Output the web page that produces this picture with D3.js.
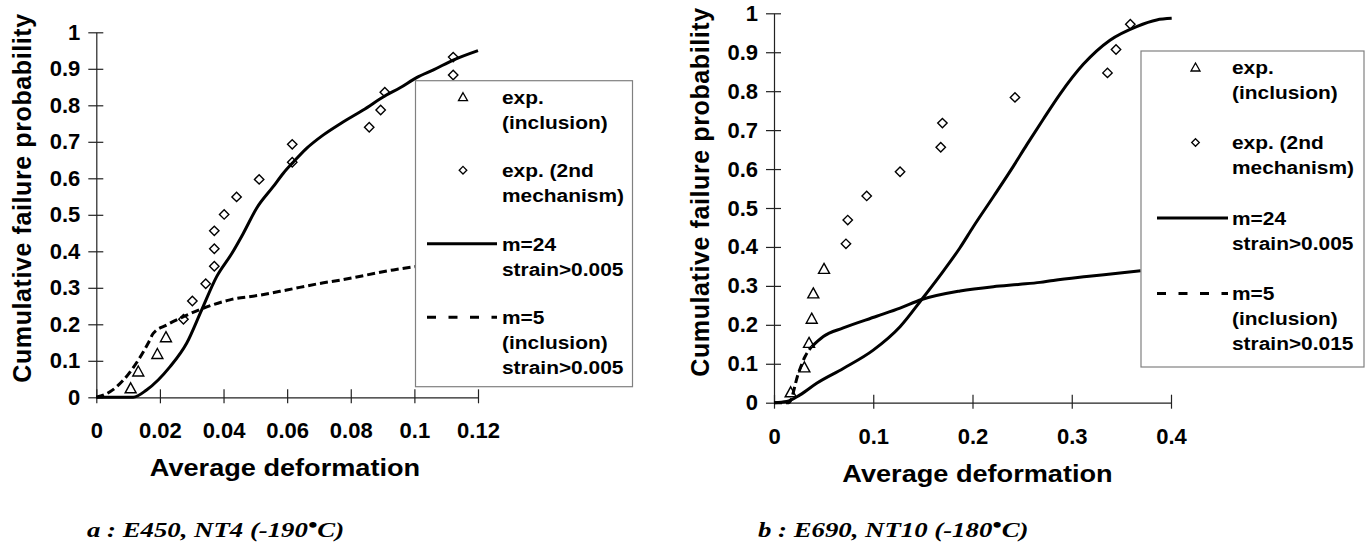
<!DOCTYPE html>
<html>
<head>
<meta charset="utf-8">
<script src="https://cdn.jsdelivr.net/npm/d3@7"></script>
<style>
  body { margin: 0; background: #fff; }
  svg { display: block; }
</style>
</head>
<body>
<svg id="chart" width="1372" height="547"></svg>
<script>
// ---- data ----
var yTicks = [0, 0.1, 0.2, 0.3, 0.4, 0.5, 0.6, 0.7, 0.8, 0.9, 1];
var aXTicks = [0, 0.02, 0.04, 0.06, 0.08, 0.1, 0.12];
var bXTicks = [0, 0.1, 0.2, 0.3, 0.4];

// panel a : E450, NT4
var aTriangles = [[0.0108, 0.026], [0.0132, 0.072], [0.0192, 0.120], [0.0219, 0.166]];
var aDiamonds = [[0.0274, 0.214], [0.0302, 0.264], [0.0344, 0.311], [0.0371, 0.359],
    [0.0371, 0.407], [0.0371, 0.456], [0.0402, 0.501], [0.0441, 0.549], [0.0512, 0.597],
    [0.0616, 0.644], [0.0616, 0.693], [0.0858, 0.740], [0.0894, 0.787], [0.0907, 0.836],
    [0.1122, 0.883], [0.1122, 0.932]];
var aM24 = [[0, 0], [0.0116, 0], [0.0158, 0.02], [0.0232, 0.084], [0.0284, 0.148],
    [0.0331, 0.239], [0.0378, 0.33], [0.0426, 0.394], [0.0462, 0.449], [0.0504, 0.518],
    [0.0556, 0.577], [0.0588, 0.614], [0.0619, 0.644], [0.0661, 0.682], [0.0714, 0.719],
    [0.0766, 0.749], [0.0839, 0.787], [0.0908, 0.826], [0.0955, 0.848], [0.1007, 0.876],
    [0.106, 0.897], [0.1122, 0.924], [0.12, 0.95]];
var aM5 = [[0, 0], [0.0043, 0.015], [0.0085, 0.047], [0.0132, 0.102], [0.0163, 0.148],
    [0.0179, 0.175], [0.0221, 0.198], [0.0274, 0.221], [0.0336, 0.244], [0.042, 0.267],
    [0.0515, 0.28], [0.0599, 0.294], [0.0703, 0.312], [0.0766, 0.321], [0.0934, 0.349],
    [0.1002, 0.358]];

// panel b : E690, NT10
var bTriangles = [[0.0168, 0.028], [0.0306, 0.092], [0.0353, 0.155], [0.038, 0.217],
    [0.0396, 0.282], [0.0504, 0.345]];
var bDiamonds = [[0.0725, 0.408], [0.0743, 0.469], [0.0934, 0.531], [0.127, 0.593],
    [0.168, 0.656], [0.1697, 0.718], [0.2428, 0.784], [0.336, 0.847], [0.3446, 0.907],
    [0.359, 0.972]];
var bM24 = [[0, 0], [0.0128, 0.003], [0.0262, 0.02], [0.043, 0.05], [0.0698, 0.088],
    [0.1, 0.135], [0.127, 0.195], [0.1488, 0.265], [0.1706, 0.338], [0.1874, 0.398],
    [0.2008, 0.452], [0.221, 0.529], [0.2411, 0.607], [0.2546, 0.662], [0.2713, 0.728],
    [0.288, 0.792], [0.3116, 0.869], [0.3385, 0.931], [0.3654, 0.966], [0.3856, 0.983],
    [0.4007, 0.987]];
var bM5 = [[0, 0], [0.015, 0], [0.0245, 0.075], [0.0312, 0.118], [0.038, 0.144],
    [0.0497, 0.17], [0.0698, 0.192], [0.1035, 0.222], [0.127, 0.243], [0.1488, 0.265],
    [0.1874, 0.287], [0.221, 0.298], [0.248, 0.304], [0.268, 0.309], [0.2814, 0.314],
    [0.315, 0.324], [0.3486, 0.333], [0.3695, 0.339]];
// excel restarts the dash on every segment, so only the long first part looks dashed
var bM5DashedPoints = 5;

var aLegend = [["exp.", "(inclusion)"], ["exp. (2nd", "mechanism)"],
    ["m=24", "strain>0.005"], ["m=5", "(inclusion)", "strain>0.005"]];
var bLegend = [["exp.", "(inclusion)"], ["exp. (2nd", "mechanism)"],
    ["m=24", "strain>0.005"], ["m=5", "(inclusion)", "strain>0.015"]];

var aCaption = ["a : E450, NT4 (-190", "\u2022", "C)"];
var bCaption = ["b : E690, NT10 (-180", "\u2022", "C)"];

var SANS = "'Liberation Sans', Arial, sans-serif";
var SERIF = "'Liberation Serif', 'Times New Roman', serif";

var svg = d3.select("#chart");

function triPath(w, h) {
    return "M0," + (-h / 2) + "L" + (w / 2) + "," + (h / 2) + "L" + (-w / 2) + "," + (h / 2) + "Z";
}
function diaPath(s) {
    return "M0," + (-s) + "L" + s + ",0L0," + s + "L" + (-s) + ",0Z";
}

function drawPanel(p) {
    var g = svg.append("g");
    var x = d3.scaleLinear().domain([0, p.xMax]).range([p.left, p.right]);
    var y = d3.scaleLinear().domain([0, 1]).range([p.bottom, p.top]);

    // y axis
    var ya = g.append("g")
        .attr("transform", "translate(" + p.left + ",0)")
        .call(d3.axisLeft(y).tickValues(yTicks).tickSize(8).tickSizeOuter(0)
            .tickFormat(d3.format("~g")));
    ya.selectAll(".tick line").attr("x1", 7);
    ya.selectAll(".tick text").attr("x", -16);

    // x axis
    var xa = g.append("g")
        .attr("transform", "translate(0," + p.bottom + ")")
        .call(d3.axisBottom(x).tickValues(p.xTicks).tickSize(6).tickSizeOuter(0)
            .tickFormat(d3.format("~g")));
    xa.selectAll(".tick line").attr("y1", -8);
    xa.selectAll(".tick text").attr("y", 41).attr("dy", 0);

    g.selectAll(".domain, .tick line").attr("stroke", "#222").attr("stroke-width", 1.2);
    g.selectAll(".tick text")
        .attr("font-family", SANS).attr("font-weight", "bold")
        .attr("font-size", 22).attr("fill", "#000");

    // axis titles
    g.append("text")
        .attr("transform", "translate(" + p.xTitleX + "," + (p.bottom + 79) + ") scale(1.18,1)")
        .attr("text-anchor", "middle")
        .attr("font-family", SANS).attr("font-weight", "bold").attr("font-size", 23)
        .text("Average deformation");
    g.append("text")
        .attr("transform", "translate(" + p.yTitleX + "," + p.yTitleY + ") rotate(-90)")
        .attr("text-anchor", "middle")
        .attr("font-family", SANS).attr("font-weight", "bold").attr("font-size", 25)
        .attr("letter-spacing", 0.6)
        .text("Cumulative failure probability");

    // model curves
    var line = d3.line()
        .x(function (d) { return x(d[0]); })
        .y(function (d) { return y(d[1]); })
        .curve(d3.curveMonotoneX);

    g.append("path").datum(p.m24).attr("d", line)
        .attr("fill", "none").attr("stroke", "#000").attr("stroke-width", 3);

    if (p.m5Dashed >= p.m5.length) {
        g.append("path").datum(p.m5).attr("d", line)
            .attr("fill", "none").attr("stroke", "#000").attr("stroke-width", 3)
            .attr("stroke-dasharray", "8,4");
    } else {
        g.append("path").datum(p.m5.slice(0, p.m5Dashed)).attr("d", line)
            .attr("fill", "none").attr("stroke", "#000").attr("stroke-width", 3)
            .attr("stroke-dasharray", "8,4");
        g.append("path").datum(p.m5.slice(p.m5Dashed - 1)).attr("d", line)
            .attr("fill", "none").attr("stroke", "#000").attr("stroke-width", 3);
    }

    // experimental points
    g.selectAll(".tri").data(p.tri).enter().append("path")
        .attr("class", "tri")
        .attr("transform", function (d) { return "translate(" + x(d[0]) + "," + y(d[1]) + ")"; })
        .attr("d", triPath(11, 10))
        .attr("fill", "none").attr("stroke", "#000").attr("stroke-width", 1.4);
    g.selectAll(".dia").data(p.dia).enter().append("path")
        .attr("class", "dia")
        .attr("transform", function (d) { return "translate(" + x(d[0]) + "," + y(d[1]) + ")"; })
        .attr("d", diaPath(4.7))
        .attr("fill", "none").attr("stroke", "#000").attr("stroke-width", 1.4);

    // legend
    var L = p.legend;
    var lg = g.append("g");
    lg.append("rect")
        .attr("x", L.x).attr("y", L.y).attr("width", L.w).attr("height", L.h)
        .attr("fill", "#fff").attr("stroke", "#808080").attr("stroke-width", 1.2);

    p.legendText.forEach(function (lines, i) {
        var cy = L.y + 16 + i * L.step;
        if (i === 0) {
            lg.append("path").attr("transform", "translate(" + L.mx + "," + cy + ")")
                .attr("d", triPath(9, 8))
                .attr("fill", "none").attr("stroke", "#000").attr("stroke-width", 1.3);
        } else if (i === 1) {
            lg.append("path").attr("transform", "translate(" + L.mx + "," + cy + ")")
                .attr("d", diaPath(3.8))
                .attr("fill", "none").attr("stroke", "#000").attr("stroke-width", 1.3);
        } else {
            lg.append("line")
                .attr("x1", L.lx1).attr("x2", L.lx2).attr("y1", cy).attr("y2", cy)
                .attr("stroke", "#000").attr("stroke-width", 3)
                .attr("stroke-dasharray", i === 3 ? "9,12.5" : null);
        }
        lines.forEach(function (t, j) {
            lg.append("text")
                .attr("transform", "translate(" + L.tx + "," + (cy + j * 25) + ") scale(1.1,1)")
                .attr("dy", "0.36em")
                .attr("font-family", SANS).attr("font-weight", "bold").attr("font-size", 19)
                .text(t);
        });
    });

    // caption under the panel
    var cap = svg.append("text")
        .attr("transform", "translate(" + p.capX + ",537) scale(1.34,1)")
        .attr("font-family", SERIF).attr("font-weight", "bold").attr("font-style", "italic")
        .attr("font-size", 20);
    cap.append("tspan").text(p.caption[0]);
    cap.append("tspan").attr("dy", -5).text(p.caption[1]);
    cap.append("tspan").attr("dy", 5).text(p.caption[2]);
}

drawPanel({
    left: 96.3, right: 478, top: 32.3, bottom: 397.3, xMax: 0.12, xTicks: aXTicks,
    xTitleX: 285, yTitleX: 31, yTitleY: 198,
    tri: aTriangles, dia: aDiamonds, m24: aM24, m5: aM5, m5Dashed: aM5.length,
    legend: { x: 415.5, y: 80.7, w: 217, h: 306, step: 73.5, mx: 463, lx1: 427, lx2: 497, tx: 502 },
    legendText: aLegend, caption: aCaption, capX: 87
});

drawPanel({
    left: 774, right: 1171, top: 13.3, bottom: 402.7, xMax: 0.4, xTicks: bXTicks,
    xTitleX: 977.5, yTitleX: 709, yTitleY: 192,
    tri: bTriangles, dia: bDiamonds, m24: bM24, m5: bM5, m5Dashed: bM5DashedPoints,
    legend: { x: 1141, y: 51, w: 223, h: 316, step: 75.5, mx: 1195.5, lx1: 1157, lx2: 1228, tx: 1232 },
    legendText: bLegend, caption: bCaption, capX: 758
});
</script>
</body>
</html>
